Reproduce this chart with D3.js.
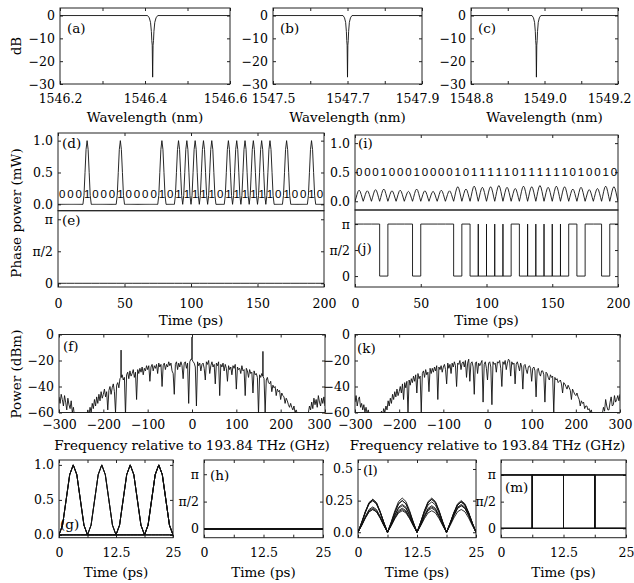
<!DOCTYPE html>
<html>
<head>
<meta charset="utf-8">
<script src="https://cdn.jsdelivr.net/npm/d3@7"></script>
<style>
body { margin: 0; background: #fff; }
svg text { font-family: "DejaVu Serif", serif; fill: #000; }
</style>
</head>
<body>
<script>
const PI = Math.PI;

// Séquence de bits (32 bits sur 200 ps)
const bits = [0,0,0,1, 0,0,0,1, 0,0,0,0, 1,0,1,1, 1,1,1,0, 1,1,1,1, 1,1,0,1, 0,0,1,0];
const bitPeriod = 6.25; // ps
// Forme d'une impulsion sur un temps bit, relevée sur (g)
const pulseShape = [0, 0.14, 0.5, 0.86, 1, 0.86, 0.5, 0.14, 0];
// Forme des bosses après conversion, relevée sur (l)
const pulseShapeI = [0, 0.3, 0.63, 0.9, 1, 0.9, 0.63, 0.3, 0];
// Hauteur de chaque bosse de (i)
const peaksI = [0.19, 0.18, 0.2, 0.21, 0.18, 0.19, 0.17, 0.21, 0.18, 0.17, 0.19, 0.18,
    0.25, 0.21, 0.26, 0.24, 0.25, 0.27, 0.24, 0.22, 0.26, 0.25, 0.27, 0.24,
    0.26, 0.25, 0.21, 0.24, 0.2, 0.22, 0.26, 0.25];
// Phase avant conversion (e) : nulle partout
const phaseAvant = bits.map(() => 0);

// Filtres (a), (b), (c)
const filterRanges = [[1546.2, 1546.6], [1547.5, 1547.9], [1548.8, 1549.2]];
const filterCentres = [1546.418, 1547.7, 1548.978];
const notchOffset = [-0.012, -0.008, -0.005, -0.003, -0.002, -0.001, 0, 0.001, 0.002, 0.003, 0.005, 0.008, 0.012];
const notchDepth = [0, -1, -3, -7, -11, -13, -27, -13, -11, -7, -3, -1, 0];

// Spectres (f) et (k), un point tous les 2,5 GHz de -300 à 300
const freqStart = -300, freqStep = 2.5;
const spectrumF = [
    -48,-53,-46,-50,-55,-47,-52,-58,-49,-54,
    -57,-51,-60,-56,-63,-66,-64,-67,-65,-66,
    -64,-67,-62,-65,-61,-63,-58,-62,-56,-60,
    -53,-57,-50,-55,-48,-53,-46,-51,-44,-49,
    -46,-42,-48,-44,-58,-43,-40,-46,-41,-38,
    -44,-60,-39,-37,-41,-34,-33,-31,-35,-33,
    -62,-31,-29,-34,-28,-32,-30,-27,-33,-29,
    -50,-27,-30,-26,-29,-25,-31,-26,-28,-24,
    -27,-24,-36,-25,-23,-28,-24,-26,-23,-30,
    -22,-25,-23,-40,-24,-22,-27,-23,-25,-21,
    -24,-22,-28,-30,-46,-23,-21,-27,-22,-25,
    -21,-24,-34,-22,-21,-26,-22,-53,-21,-19,
    -19,-21,-22,-25,-55,-21,-24,-22,-28,-23,
    -22,-26,-35,-21,-23,-20,-30,-24,-21,-25,
    -23,-38,-22,-24,-21,-47,-23,-25,-22,-28,
    -23,-26,-36,-24,-27,-25,-31,-24,-26,-23,
    -42,-25,-27,-26,-30,-24,-28,-27,-47,-26,
    -28,-33,-27,-30,-29,-45,-28,-31,-30,-33,
    -61,-31,-33,-30,-32,-34,-60,-35,-33,-37,
    -38,-36,-44,-39,-41,-40,-47,-42,-44,-43,
    -50,-45,-47,-48,-53,-49,-51,-54,-56,-53,
    -56,-58,-55,-60,-58,-61,-63,-65,-64,-66,
    -65,-67,-63,-61,-64,-60,-55,-58,-52,-57,
    -49,-54,-50,-56,-47,-52,-55,-49,-53,-48,
    -55];
const spectrumK = [
    -52,-47,-55,-50,-48,-56,-53,-58,-54,-60,
    -56,-61,-58,-62,-64,-66,-63,-65,-62,-64,
    -65,-63,-66,-61,-59,-62,-57,-60,-55,-58,
    -51,-55,-49,-53,-46,-50,-44,-48,-42,-47,
    -44,-40,-45,-38,-50,-37,-41,-36,-60,-35,
    -39,-34,-37,-32,-36,-31,-45,-30,-34,-32,
    -60,-30,-28,-33,-27,-31,-29,-44,-26,-30,
    -26,-29,-25,-28,-24,-50,-25,-27,-24,-29,
    -25,-23,-27,-38,-22,-26,-23,-30,-22,-25,
    -21,-24,-40,-22,-23,-20,-27,-22,-21,-25,
    -20,-33,-22,-19,-36,-22,-21,-25,-46,-22,
    -21,-30,-22,-24,-22,-20,-52,-23,-21,-26,
    -35,-22,-21,-25,-54,-21,-23,-22,-29,-21,
    -22,-20,-26,-40,-21,-23,-20,-27,-22,-19,
    -20,-32,-21,-23,-22,-38,-23,-21,-24,-28,
    -22,-25,-42,-24,-23,-27,-30,-25,-24,-26,
    -36,-26,-25,-28,-48,-27,-26,-30,-32,-28,
    -28,-31,-52,-29,-30,-33,-35,-31,-33,-32,
    -60,-33,-35,-34,-37,-36,-35,-38,-45,-37,
    -38,-40,-42,-39,-41,-43,-50,-42,-44,-46,
    -47,-45,-48,-50,-55,-51,-53,-52,-57,-55,
    -55,-58,-57,-60,-58,-62,-63,-65,-64,-66,
    -64,-62,-63,-60,-61,-56,-59,-50,-55,-58,
    -58,-52,-48,-55,-54,-47,-52,-50,-47,-51,
    -46];
const toneFreq = [-160, 0, 160];
const toneLevelF = [-12, -2, -13];

const svg = d3.select("body").append("svg").attr("width", 634).attr("height", 583);
let compteurClip = 0;

// Un panneau : cadre, graduations vers l'intérieur sur les 4 côtés
function panneau(p) {
    let w = p.x1 - p.x0, h = p.y1 - p.y0;
    let g = svg.append("g").attr("transform", "translate(" + p.x0 + "," + p.y0 + ")");
    let x = d3.scaleLinear().domain(p.xdom).range([0, w]);
    let y = d3.scaleLinear().domain(p.ydom).range([h, 0]);
    let id = "clip" + (compteurClip++);
    g.append("clipPath").attr("id", id).append("rect").attr("width", w).attr("height", h);

    if (p.ticksBottom !== false) {
        let ax = g.append("g").attr("transform", "translate(0," + h + ")")
            .call(d3.axisBottom(x).tickValues(p.xTicks).tickSizeInner(-3).tickSizeOuter(0)
                .tickPadding(p.padX || 10)
                .tickFormat((d, i) => p.xLabels[i]));
        // dernier libellé un peu décalé vers la gauche (comme sur la figure)
        if (p.dxLast) ax.selectAll(".tick text").filter((d, i) => i === p.xTicks.length - 1).attr("dx", p.dxLast);
    }
    if (p.ticksTop !== false) {
        g.append("g").call(d3.axisTop(x).tickValues(p.xTicks).tickSizeInner(-3).tickSizeOuter(0).tickFormat(""));
    }
    g.append("g").call(d3.axisLeft(y).tickValues(p.yTicks).tickSizeInner(-3).tickSizeOuter(0)
        .tickPadding(5).tickFormat((d, i) => p.yLabels[i]));
    g.append("g").attr("transform", "translate(" + w + ",0)")
        .call(d3.axisRight(y).tickValues(p.yTicks).tickSizeInner(-3).tickSizeOuter(0).tickFormat(""));
    g.selectAll(".domain").remove();
    g.selectAll(".tick line").attr("stroke", "#222");
    g.selectAll(".tick text").attr("font-family", "DejaVu Serif").attr("font-size", 12.5).attr("fill", "#000");

    g.append("rect").attr("width", w).attr("height", h).attr("fill", "none").attr("stroke", "#222");
    let plot = g.append("g").attr("clip-path", "url(#" + id + ")");

    if (p.lettre) {
        g.append("text").attr("x", p.lx).attr("y", p.ly).attr("font-size", 13.5).text(p.lettre);
    }
    if (p.titre) {
        g.append("text").attr("x", w / 2).attr("y", h + p.ty).attr("text-anchor", "middle")
            .attr("font-size", 13.5).text(p.titre);
    }
    return {g: g, plot: plot, x: x, y: y, w: w, h: h};
}

function trace(pn, pts) {
    pn.plot.append("path")
        .attr("d", d3.line().x(d => pn.x(d[0])).y(d => pn.y(d[1]))(pts))
        .attr("fill", "none").attr("stroke", "#111").attr("stroke-width", 0.9);
}

// Train d'impulsions construit à partir des amplitudes par bit
function trainImpulsions(amplitudes, forme) {
    let pts = [];
    amplitudes.forEach((a, k) => {
        forme.forEach((s, j) => {
            if (j === 0 && k > 0) return;
            pts.push([(k + j / (forme.length - 1)) * bitPeriod, s * a]);
        });
    });
    return pts;
}

// Phase après conversion : π pour un 0, 0 pour un 1, avec un pic entre deux 1 consécutifs
function phaseBits(listeBits) {
    let pts = [];
    listeBits.forEach((b, k) => {
        let niveau = b ? 0 : PI;
        let t0 = k * bitPeriod, t1 = (k + 1) * bitPeriod;
        if (k > 0 && b && listeBits[k - 1]) pts.push([t0, PI], [t0, 0]);
        pts.push([t0, niveau], [t1, niveau]);
    });
    return pts;
}

function phaseConstante(valeurs) {
    let pts = [];
    valeurs.forEach((v, k) => pts.push([k * bitPeriod, v], [(k + 1) * bitPeriod, v]));
    return pts;
}

function etiquettesBits(pn, niveau) {
    bits.forEach((b, k) => {
        pn.plot.append("text").attr("x", pn.x((k + 0.5) * bitPeriod)).attr("y", pn.y(niveau) + 4)
            .attr("text-anchor", "middle").style("font-family", "Liberation Sans, Arial, sans-serif")
            .attr("font-size", 11.5).text(b);
    });
}

const piTicks = [0, PI / 2, PI];
const piLabels = ["0", "π/2", "π"];

// --- Ligne du haut : filtres ---
const posFiltres = [[60, 230, "(a)", -5], [273, 422, "(b)", -5], [471, 618, "(c)", -9]];
filterRanges.forEach((r, i) => {
    let xt = [0, 1, 2, 3, 4].map(k => r[0] + k * 0.1);
    let pn = panneau({
        x0: posFiltres[i][0], x1: posFiltres[i][1], y0: 8, y1: 84,
        xdom: r, ydom: [-30, 3.3],
        xTicks: xt, xLabels: xt.map((v, k) => k % 2 === 0 ? v.toFixed(1) : ""), padX: 10, dxLast: posFiltres[i][3],
        yTicks: [-30, -20, -10, 0], yLabels: ["−30", "−20", "−10", "0"],
        lettre: posFiltres[i][2], lx: 7, ly: 25, titre: "Wavelength (nm)", ty: 38
    });
    let pts = [[r[0], 0]];
    notchOffset.forEach((o, k) => pts.push([filterCentres[i] + o, notchDepth[k]]));
    pts.push([r[1], 0]);
    trace(pn, pts);
});

// --- Ligne du milieu : formes temporelles ---
const tTicks = [0, 50, 100, 150, 200];
const tLabels = ["0", "50", "100", "150", "200"];

let pd = panneau({x0: 58, x1: 324, y0: 133, y1: 210.7, xdom: [0, 200], ydom: [-0.1, 1.12],
    xTicks: tTicks, xLabels: tLabels, ticksBottom: false,
    yTicks: [0, 0.5, 1], yLabels: ["0.0", "0.5", "1.0"], lettre: "(d)", lx: 4, ly: 15});
trace(pd, trainImpulsions(bits, pulseShape));
etiquettesBits(pd, 0.17);

let pe = panneau({x0: 58, x1: 324, y0: 210.7, y1: 287, xdom: [0, 200], ydom: [-0.058 * PI, 1.134 * PI],
    xTicks: tTicks, xLabels: tLabels, ticksTop: false, padX: 12,
    yTicks: piTicks, yLabels: piLabels, lettre: "(e)", lx: 4, ly: 14, titre: "Time (ps)", ty: 38});
trace(pe, phaseConstante(phaseAvant));

let pi_ = panneau({x0: 355, x1: 618, y0: 135, y1: 210, xdom: [0, 200], ydom: [-0.15, 1.14],
    xTicks: tTicks, xLabels: tLabels, ticksBottom: false,
    yTicks: [0, 0.5, 1], yLabels: ["0.0", "0.5", "1.0"], lettre: "(i)", lx: 3, ly: 13});
trace(pi_, trainImpulsions(peaksI, pulseShapeI));
etiquettesBits(pi_, 0.5);

let pj = panneau({x0: 355, x1: 618, y0: 210, y1: 287, xdom: [0, 200], ydom: [-0.21 * PI, 1.27 * PI],
    xTicks: tTicks, xLabels: tLabels, ticksTop: false, padX: 12,
    yTicks: piTicks, yLabels: piLabels, lettre: "(j)", lx: 2, ly: 43, titre: "Time (ps)", ty: 38});
trace(pj, phaseBits(bits));

// --- Spectres ---
const fTicks = [-300, -200, -100, 0, 100, 200, 300];
const fLabels = ["−300", "−200", "−100", "0", "100", "200", "300"];
const spectreOpts = {y0: 334.5, y1: 412.5, xdom: [-300, 300], ydom: [-60, 0],
    xTicks: fTicks, xLabels: fLabels, padX: 8,
    yTicks: [-60, -40, -20, 0], yLabels: ["−60", "−40", "−20", "0"],
    titre: "Frequency relative to 193.84 THz (GHz)", ty: 37};

let pf = panneau(Object.assign({x0: 59, x1: 325, lettre: "(f)", lx: 4, ly: 16, dxLast: -6}, spectreOpts));
let ptsF = [];
spectrumF.forEach((v, i) => {
    let f = freqStart + i * freqStep;
    ptsF.push([f, v]);
    let t = toneFreq.indexOf(f);
    if (t >= 0) ptsF.push([f, toneLevelF[t]], [f, v]);
});
trace(pf, ptsF);

let pk = panneau(Object.assign({x0: 355, x1: 620, lettre: "(k)", lx: 2, ly: 18}, spectreOpts));
trace(pk, spectrumK.map((v, i) => [freqStart + i * freqStep, v]));

// --- Ligne du bas : diagrammes de l'oeil sur 25 ps ---
const eTicks = [0, 6.25, 12.5, 18.75, 25];
const eLabels = ["0", "", "12.5", "", "25"];
const oeilOpts = {y0: 460, y1: 537.7, xdom: [0, 25], xTicks: eTicks, xLabels: eLabels, padX: 10,
    titre: "Time (ps)", ty: 39};
const fenetres = d3.range(bits.length / 4);

let pg = panneau(Object.assign({x0: 59, x1: 173, ydom: [-0.04, 1.07],
    yTicks: [0, 0.5, 1], yLabels: ["0.0", "0.5", "1.0"], lettre: "(g)", lx: 1, ly: 69}, oeilOpts));
fenetres.forEach(w => trace(pg, trainImpulsions(bits.slice(4 * w, 4 * w + 4), pulseShape)));

let ph = panneau(Object.assign({x0: 204, x1: 323, ydom: [-0.16 * PI, 1.26 * PI],
    yTicks: piTicks, yLabels: piLabels, lettre: "(h)", lx: 6, ly: 20}, oeilOpts));
fenetres.forEach(w => trace(ph, phaseConstante(phaseAvant.slice(4 * w, 4 * w + 4))));

let pl = panneau(Object.assign({x0: 358, x1: 476, ydom: [-0.043, 0.571],
    yTicks: [0, 0.25, 0.5], yLabels: ["0.0", "0.25", "0.5"], lettre: "(l)", lx: 5, ly: 15}, oeilOpts));
fenetres.forEach(w => trace(pl, trainImpulsions(peaksI.slice(4 * w, 4 * w + 4), pulseShapeI)));

let pm = panneau(Object.assign({x0: 501, x1: 626, ydom: [-0.176 * PI, 1.28 * PI],
    yTicks: piTicks, yLabels: piLabels, lettre: "(m)", lx: 4, ly: 32}, oeilOpts));
fenetres.forEach(w => trace(pm, phaseBits(bits.slice(4 * w, 4 * w + 4))));

// Titres des axes verticaux
[["dB", 46], ["Phase power (mW)", 213], ["Power (dBm)", 374]].forEach(t => {
    svg.append("text").attr("transform", "translate(21," + t[1] + ") rotate(-90)")
        .attr("text-anchor", "middle").attr("font-size", 13.5).text(t[0]);
});
</script>
</body>
</html>
